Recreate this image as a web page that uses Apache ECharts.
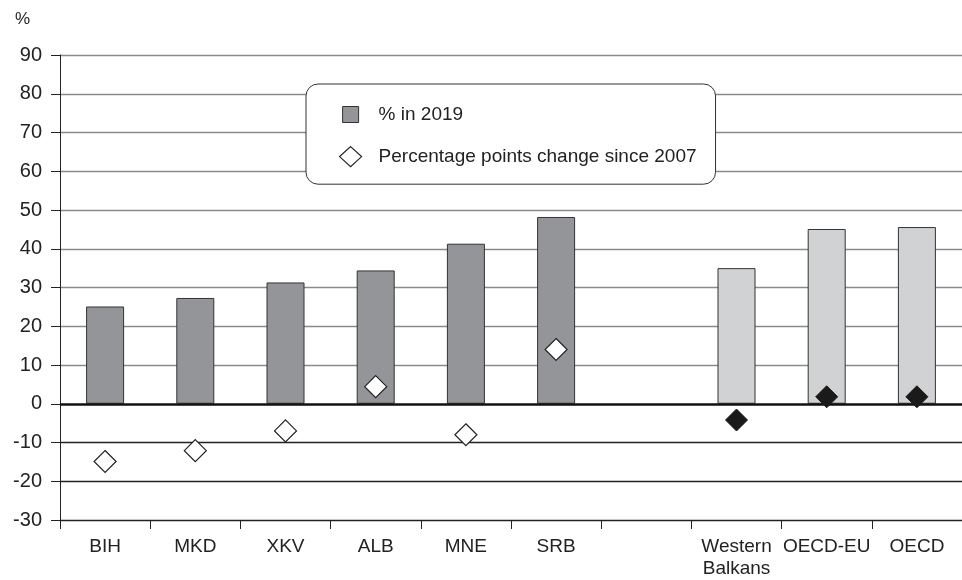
<!DOCTYPE html>
<html>
<head>
<meta charset="utf-8">
<script src="https://cdn.jsdelivr.net/npm/echarts@6/dist/echarts.min.js"></script>
<style>
  html, body { margin: 0; padding: 0; background: #fff; }
  #main { width: 962px; height: 580px; }
</style>
</head>
<body>
<div id="main"></div>
<script>
const categories = ['BIH', 'MKD', 'XKV', 'ALB', 'MNE', 'SRB', '', 'Western\nBalkans', 'OECD-EU', 'OECD'];
const share2019 = [25.1, 27.3, 31.3, 34.4, 41.3, 48.2, null, 35.0, 45.1, 45.6];
const change2007 = [-14.9, -12.1, -7.0, 4.4, -8.0, 14.0, null, -4.2, 1.8, 1.8];
const regionalStart = 7;
const yTicks = { min: -30, max: 90, step: 10 };

const font = '"Liberation Sans", Arial, sans-serif';
const darkBar = '#939598';
const lightBar = '#d1d2d4';

// grid line colours: lines below zero darker, above lighter
let splitColors = [];
for (let v = yTicks.min; v <= yTicks.max; v += yTicks.step) {
    splitColors.push(v < 0 ? '#222' : (v === 0 ? 'rgba(0,0,0,0)' : '#8a8a8a'));
}

const chart = echarts.init(document.getElementById('main'));
chart.setOption({
    backgroundColor: '#fff',
    textStyle: { fontFamily: font },
    title: {
        text: '%',
        left: 10,
        top: 6,
        textStyle: { fontFamily: font, fontSize: 17, fontWeight: 'normal', color: '#222' }
    },
    legend: {
        orient: 'vertical',
        left: 306,
        top: 84,
        padding: [20, 19, 17, 33],
        itemGap: 21,
        itemWidth: 22,
        itemHeight: 20,
        borderColor: '#333',
        borderWidth: 1,
        borderRadius: 12,
        backgroundColor: '#fff',
        textStyle: { fontFamily: font, fontSize: 19, color: '#222', padding: [0, 0, 0, 12] },
        data: [
            { name: '% in 2019', icon: 'path://M0,0M2,2L18,2L18,18L2,18ZM20,20',
              itemStyle: { color: darkBar, borderColor: '#333', borderWidth: 1 } },
            { name: 'Percentage points change since 2007', icon: 'diamond',
              itemStyle: { color: '#fff', borderColor: '#222', borderWidth: 1.2 } }
        ]
    },
    grid: { left: 60, right: 0, top: 55, bottom: 58 },
    xAxis: {
        type: 'category',
        data: categories,
        boundaryGap: true,
        axisLine: { onZero: false, lineStyle: { color: '#222', width: 1 } },
        axisTick: { show: true, interval: 0, length: 9, lineStyle: { color: '#222' } },
        axisLabel: { interval: 0, margin: 16, fontSize: 19, color: '#222', lineHeight: 22, fontFamily: font }
    },
    yAxis: {
        type: 'value',
        min: yTicks.min,
        max: yTicks.max,
        interval: yTicks.step,
        axisLine: { show: true, lineStyle: { color: '#222', width: 1 } },
        axisTick: { show: true, length: 9, lineStyle: { color: '#222' } },
        axisLabel: { margin: 18, fontSize: 20, color: '#222', fontFamily: font },
        splitLine: { show: true, lineStyle: { color: splitColors, width: 1.3 } }
    },
    series: [{
        name: '% in 2019',
        type: 'bar',
        barWidth: 38,
        z: 2,
        itemStyle: { borderColor: '#333', borderWidth: 1 },
        data: share2019.map((v, i) => ({
            value: v,
            itemStyle: { color: i >= regionalStart ? lightBar : darkBar }
        })),
        markLine: {
            silent: true,
            symbol: 'none',
            label: { show: false },
            lineStyle: { color: '#111', width: 2.5, type: 'solid' },
            data: [{ yAxis: 0 }]
        }
    }, {
        name: 'Percentage points change since 2007',
        type: 'scatter',
        symbol: 'diamond',
        symbolSize: 22,
        z: 5,
        itemStyle: { opacity: 1 },
        data: change2007.map((v, i) => ({
            value: v,
            itemStyle: i >= regionalStart
                ? { color: '#1a1a1a', borderColor: '#1a1a1a', borderWidth: 1, opacity: 1 }
                : { color: '#fff', borderColor: '#222', borderWidth: 1.2, opacity: 1 }
        }))
    }]
});
</script>
</body>
</html>
